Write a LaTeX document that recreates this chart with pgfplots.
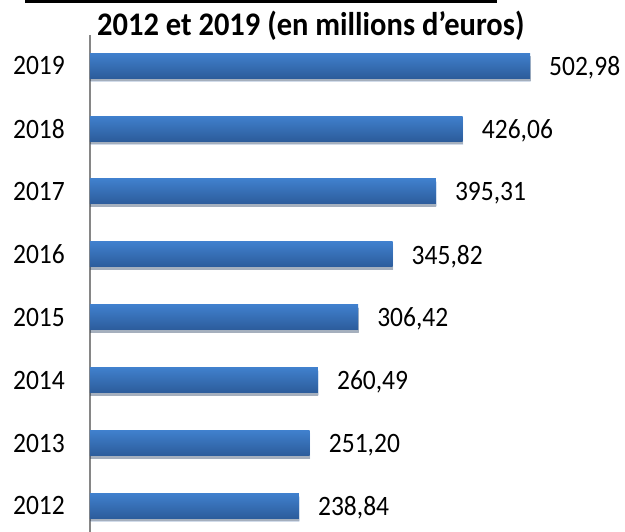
\documentclass[border=0pt]{standalone}
\usepackage{graphicx}
\usepackage{pgfplots}
\pgfplotsset{compat=1.18}
\usetikzlibrary{shadows}
\usepackage{fontspec}
\setmainfont{Carlito}
\definecolor{bartop}{RGB}{64,128,205}
\definecolor{barbot}{RGB}{44,92,155}
\definecolor{axgray}{RGB}{134,134,134}
\begin{document}
\begin{tikzpicture}
\path[use as bounding box] (-90pt,-26pt) rectangle (535pt,506pt);
\clip (-90pt,-26pt) rectangle (535pt,506pt);
\fill[black] (-65pt,503pt) rectangle (407pt,506pt);
\node[anchor=base west, inner sep=0pt, font=\fontsize{30.5}{34}\selectfont\bfseries] at (7pt,470pt) {\scalebox{1}[1.08]{2012 et 2019 (en millions d’euros)}};
\begin{axis}[
  anchor=origin, at={(0pt,0pt)},
  x=0.8748pt, y=62.9pt,
  xmin=0, xmax=600, ymin=-0.8, ymax=7.49,
  xbar, bar width=25pt, bar shift=0pt,
  axis x line=none,
  axis y line=left,
  y axis line style={-, draw=axgray, line width=2pt},
  ytick={0,...,7},
  yticklabels={\scalebox{1}[1.1]{2012},\scalebox{1}[1.1]{2013},\scalebox{1}[1.1]{2014},\scalebox{1}[1.1]{2015},\scalebox{1}[1.1]{2016},\scalebox{1}[1.1]{2017},\scalebox{1}[1.1]{2018},\scalebox{1}[1.1]{2019}},
  major tick length=0pt,
  yticklabel style={inner sep=0pt, anchor=east, xshift=-25pt, font=\fontsize{25.5}{30}\selectfont},
  /pgf/number format/assume math mode=true,
  clip=false,
  point meta=x,
  nodes near coords={\scalebox{1}[1.1]{\pgfmathprintnumber[fixed, fixed zerofill, precision=2, use comma]{\pgfplotspointmeta}}},
  every node near coord/.append style={anchor=west, inner sep=0pt, xshift=19pt, yshift=-2pt, font=\fontsize{25.5}{30}\selectfont, text=black},
  barstyle/.style={draw=none, top color=bartop, bottom color=barbot,
    drop shadow={shadow xshift=0.5pt, shadow yshift=-3pt, opacity=0.22, fill=black}},
]
\addplot[barstyle] coordinates {(238.84,0)};
\addplot[barstyle] coordinates {(251.20,1)};
\addplot[barstyle] coordinates {(260.49,2)};
\addplot[barstyle] coordinates {(306.42,3)};
\addplot[barstyle] coordinates {(345.82,4)};
\addplot[barstyle] coordinates {(395.31,5)};
\addplot[barstyle] coordinates {(426.06,6)};
\addplot[barstyle] coordinates {(502.98,7)};
\end{axis}
\end{tikzpicture}
\end{document}
